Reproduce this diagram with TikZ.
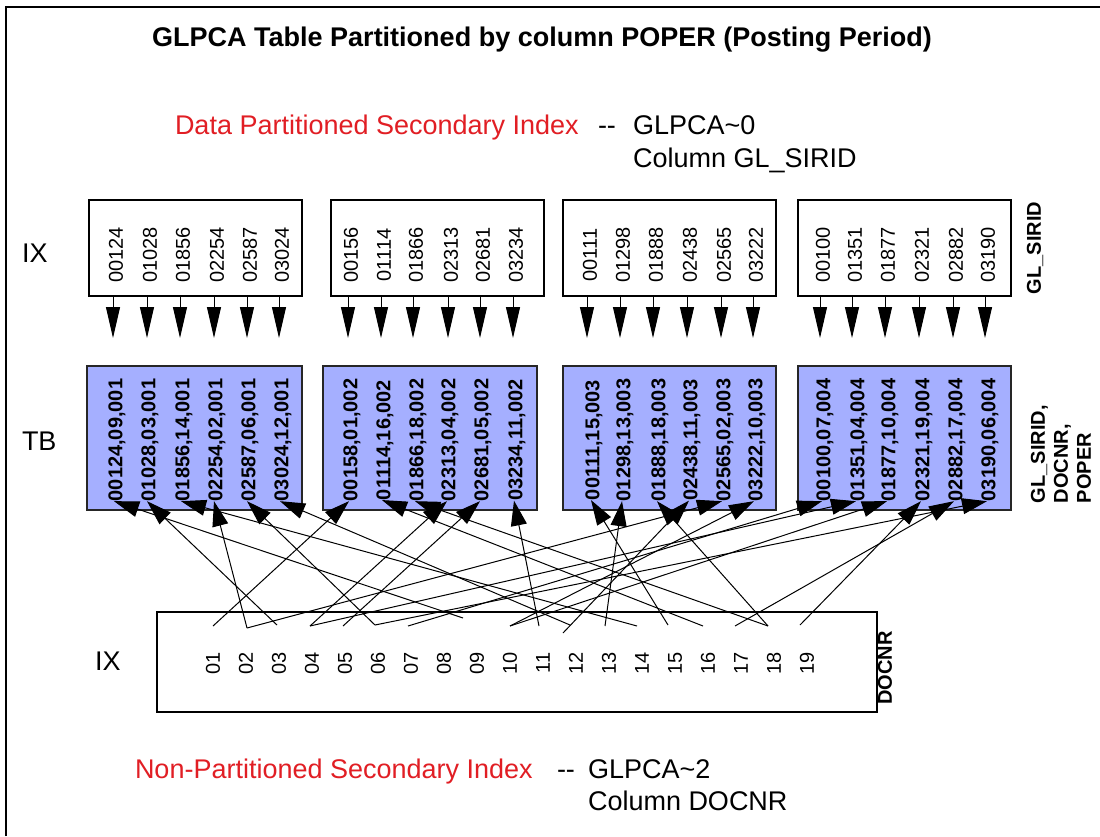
\documentclass[tikz,border=0pt]{standalone}
\usepackage{fontspec}
\setmainfont{Liberation Sans}
\usetikzlibrary{arrows.meta,calc}
\definecolor{idxred}{RGB}{225,30,36}
\definecolor{tbfill}{RGB}{165,175,255}

\begin{document}
\begin{tikzpicture}[x=1pt,y=-1pt,
  every node/.style={inner sep=0pt, outer sep=0pt},
  ixbox/.style={draw=black, line width=1.2pt, fill=white, anchor=north west},
  tbbox/.style={draw=black!85, line width=1.4pt, fill=tbfill, anchor=north west},
  keynum/.style={rotate=90, font=\fontsize{20}{24}\selectfont},
  rowval/.style={rotate=90, font=\bfseries\fontsize{20}{24}\selectfont},
  sidelab/.style={rotate=90, font=\bfseries\fontsize{20}{23}\selectfont},
  biglab/.style={anchor=base west, font=\fontsize{27}{32}\selectfont},
  downptr/.style={line width=1pt, -{Triangle[length=31pt,width=14pt]}},
  rowptr/.style={line width=1pt, -{Triangle[length=25pt,width=16pt]}},
]
\useasboundingbox (0,0) rectangle (1100,836);
\fill[white] (0,0) rectangle (1100,836);

% page frame (top and left edges)
\draw[line width=1.5pt] (6,836) -- (6,7) -- (1100,7);

% headings
\node[font=\bfseries\fontsize{27}{32}\selectfont, anchor=base] (title) at (542,46)
  {GLPCA Table Partitioned by column POPER (Posting Period)};
\node[biglab, text=idxred] (dpsi) at (175,134) {Data Partitioned Secondary Index};
\node[biglab] (dash1) at (598,134) {-{}-};
\node[biglab] (ix0) at (633,134) {GLPCA\textasciitilde 0};
\node[biglab] (col0) at (633,167) {Column GL\_SIRID};

\node[biglab, text=idxred] (npsi) at (135,778) {Non-Partitioned Secondary Index};
\node[biglab] (dash2) at (557,778) {-{}-};
\node[biglab] (ix2) at (588,778) {GLPCA\textasciitilde 2};
\node[biglab] (col2) at (588,810) {Column DOCNR};

\node[biglab] (lix1) at (22,262) {IX};
\node[biglab] (ltb) at (22,450) {TB};
\node[biglab] (lix2) at (95,670) {IX};

% partitioned index pieces (GL_SIRID)
\node[ixbox, minimum width=213pt, minimum height=96pt] (b1) at (89,200) {};
\node[ixbox, minimum width=213pt, minimum height=96pt] (b2) at (331,200) {};
\node[ixbox, minimum width=213pt, minimum height=96pt] (b3) at (563,200) {};
\node[ixbox, minimum width=213pt, minimum height=96pt] (b4) at (798,200) {};

\foreach \xx/\v [count=\i] in {116/00124,150/01028,183/01856,217/02254,250/02587,282/03024}
  {\node[keynum] (n1\i) at (\xx,255) {\v};
   \draw[downptr] ($(n1\i.center |- b1.south)+(-3,0)$) -- ++(0,42);}
\foreach \xx/\v [count=\i] in {351/00156,384/01114,416/01866,451/02313,483/02681,516/03234}
  {\node[keynum] (n2\i) at (\xx,255) {\v};
   \draw[downptr] ($(n2\i.center |- b2.south)+(-3,0)$) -- ++(0,42);}
\foreach \xx/\v [count=\i] in {590/00111,623/01298,656/01888,690/02438,724/02565,756/03222}
  {\node[keynum] (n3\i) at (\xx,255) {\v};
   \draw[downptr] ($(n3\i.center |- b3.south)+(-3,0)$) -- ++(0,42);}
\foreach \xx/\v [count=\i] in {823/00100,855/01351,888/01877,922/02321,956/02882,988/03190}
  {\node[keynum] (n4\i) at (\xx,255) {\v};
   \draw[downptr] ($(n4\i.center |- b4.south)+(-3,0)$) -- ++(0,42);}
\node[sidelab] (lab1) at (1035,248) {GL\_SIRID};

% table partitions
\node[tbbox, minimum width=215pt, minimum height=144pt] (c1) at (87,366) {};
\node[tbbox, minimum width=214pt, minimum height=144pt] (c2) at (323,366) {};
\node[tbbox, minimum width=213pt, minimum height=144pt] (c3) at (563,366) {};
\node[tbbox, minimum width=213pt, minimum height=144pt] (c4) at (798,366) {};

\node[rowval] (t11) at (117,440) {00124,09,001};
\node[rowval] (t12) at (150,440) {01028,03,001};
\node[rowval] (t13) at (184,440) {01856,14,001};
\node[rowval] (t14) at (217,440) {02254,02,001};
\node[rowval] (t15) at (250,440) {02587,06,001};
\node[rowval] (t16) at (283,440) {03024,12,001};

\node[rowval] (t21) at (352,440) {00158,01,002};
\node[rowval] (t22) at (385,440) {01114,16,002};
\node[rowval] (t23) at (418,440) {01866,18,002};
\node[rowval] (t24) at (450,440) {02313,04,002};
\node[rowval] (t25) at (483,440) {02681,05,002};
\node[rowval] (t26) at (517,440) {03234,11,002};

\node[rowval] (t31) at (594,440) {00111,15,003};
\node[rowval] (t32) at (625,440) {01298,13,003};
\node[rowval] (t33) at (660,440) {01888,18,003};
\node[rowval] (t34) at (692,440) {02438,11,003};
\node[rowval] (t35) at (725,440) {02565,02,003};
\node[rowval] (t36) at (757,440) {03222,10,003};

\node[rowval] (t41) at (825,440) {00100,07,004};
\node[rowval] (t42) at (859,440) {01351,04,004};
\node[rowval] (t43) at (890,440) {01877,10,004};
\node[rowval] (t44) at (924,440) {02321,19,004};
\node[rowval] (t45) at (957,440) {02882,17,004};
\node[rowval] (t46) at (990,440) {03190,06,004};

\node[sidelab, align=left, anchor=west] (lab2) at (1061,503) {GL\_SIRID,\\DOCNR,\\POPER};

% non-partitioned index (DOCNR)
\node[ixbox, minimum width=720pt, minimum height=100pt] (bx) at (157,612) {};
\foreach \k [evaluate=\k as \xx using 213+33*(\k-1)] in {1,...,19}
  {\node[keynum] (m\k) at (\xx,663) {\ifnum\k<10 0\fi\k};}
\node[sidelab] (lab3) at (885,668) {DOCNR};

% entry points of the DOCNR keys
\coordinate (d01) at (213,626);
\coordinate (d02) at (247,628);
\coordinate (d03) at (277,625);
\coordinate (d04) at (310,626);
\coordinate (d05) at (343,626);
\coordinate (d06) at (375,625);
\coordinate (d07) at (408,626);
\coordinate (d09) at (463,618);
\coordinate (d10) at (510,626);
\coordinate (d11) at (539,626);
\coordinate (d11b) at (563,633);
\coordinate (d12) at (570,625);
\coordinate (d13) at (605,626);
\coordinate (d14) at (637,626);
\coordinate (d15) at (668,625);
\coordinate (d16) at (703,626);
\coordinate (d17) at (735,626);
\coordinate (d18) at (768,626);
\coordinate (d19) at (800,625);

% pointers from DOCNR keys to table rows
\foreach \src/\dst in {d09/t11,d03/t12,d14/t13,d02/t14,d06/t15,d12/t16,
                       d01/t21,d16/t22,d18/t23,d04/t24,d05/t25,d11/t26,
                       d15/t31,d13/t32,d18/t33,d11b/t34,d02/t35,d10/t36,
                       d07/t41,d04/t42,d10/t43,d19/t44,d17/t45,d06/t46}
  {\draw[rowptr] (\src) -- ($(\dst.west)+(-3,0)$);}
\end{tikzpicture}
\end{document}
